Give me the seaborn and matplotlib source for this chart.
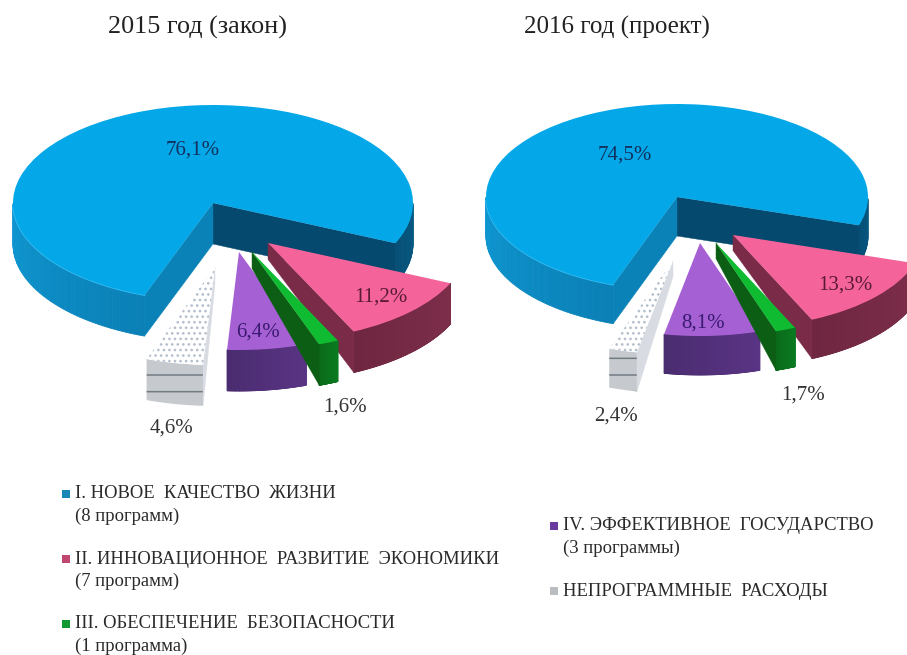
import numpy as np
import seaborn as sns
from matplotlib import pyplot as plt

# values in legend order: I, II, III, IV, non-programme
shares_2015 = [76.1, 11.2, 1.6, 6.4, 4.6]
shares_2016 = [74.5, 13.3, 1.7, 8.1, 2.4]
labels_2015 = ['76,1%', '11,2%', '1,6%', '6,4%', '4,6%']
labels_2016 = ['74,5%', '13,3%', '1,7%', '8,1%', '2,4%']
titles = ['2015 год (закон)', '2016 год (проект)']
legend_left = [
    ['I. НОВОЕ  КАЧЕСТВО  ЖИЗНИ', '(8 программ)'],
    ['II. ИННОВАЦИОННОЕ  РАЗВИТИЕ  ЭКОНОМИКИ', '(7 программ)'],
    ['III. ОБЕСПЕЧЕНИЕ  БЕЗОПАСНОСТИ', '(1 программа)'],
]
legend_right = [
    ['IV. ЭФФЕКТИВНОЕ  ГОСУДАРСТВО', '(3 программы)'],
    ['НЕПРОГРАММНЫЕ  РАСХОДЫ'],
]

W, H = 907, 655
top_colors = ['#04a8e8', '#f4649a', '#0fbb30', '#a560d4', '#ffffff']
rim_colors = [
    ['#064f76', '#0a6f9f', '#0d8fca', '#0e97d2', '#0a80b6'],
    ['#6f2640', '#7d2e4a'],
    ['#0a6a1a', '#0a7a20'],
    ['#4a2c70', '#5a3484'],
    ['#c6cacf', '#c6cacf'],
]
# colours of the cut faces: at theta1 and theta2 of each wedge
face_colors = [
    ('#05496e', '#0a82b8'),
    ('#7a2b47', '#6a2340'),
    ('#0b5e14', '#0b5e14'),
    ('#4a2c70', '#4a2c70'),
    ('#d8dce2', '#d8dce2'),
]
draw_order = [0, 4, 1, 3, 2]

sns.set_theme(style='white')
plt.rcParams['font.family'] = ['Liberation Serif', 'DejaVu Serif']
plt.rcParams['hatch.linewidth'] = 1.1
fig = plt.figure(figsize=(W / 100, H / 100), dpi=100, facecolor='white')


def draw_sides(ax, w, i, depth, z):
    cx, cy = w.center
    t = np.radians(np.linspace(w.theta1, w.theta2, 241))
    xs = cx + w.r * np.cos(t)
    ys = cy + w.r * np.sin(t)
    if i == 4:
        ax.fill(np.r_[xs, xs[::-1]], np.r_[ys, ys[::-1] - depth], facecolor='#c6cacf',
                edgecolor='#727a82', hatch='-', lw=0, zorder=z)
    else:
        pal = sns.blend_palette(rim_colors[i], len(t) - 1)
        for k, c in enumerate(pal):
            # back of the rim is hidden by the top
            if np.sin(t[k]) > 0 or np.sin(t[k + 1]) > 0:
                continue
            ax.fill([xs[k], xs[k + 1], xs[k + 1], xs[k]],
                    [ys[k], ys[k + 1], ys[k + 1] - depth, ys[k] - depth],
                    color=c, lw=0.6, zorder=z)
    # pulled-out slices look shallower at the apex
    apex = depth if i == 0 else depth * 0.4
    # only faces turned towards the viewer
    if np.cos(np.radians(w.theta1)) > 0:
        ax.fill([cx, xs[0], xs[0], cx], [cy, ys[0], ys[0] - depth, cy - apex],
                color=face_colors[i][0], lw=0.3, zorder=z + 0.1)
    if np.cos(np.radians(w.theta2)) < 0:
        ax.fill([cx, xs[-1], xs[-1], cx], [cy, ys[-1], ys[-1] - depth, cy - apex],
                color=face_colors[i][1], lw=0.3, zorder=z + 0.1)
    if i == 0:
        m = np.degrees(t) > 182
        ax.plot(xs[m], ys[m], color='#35bcf2', lw=1.2, zorder=z + 0.15)


def draw_pie(values, start, center, radius, depth, shifts, x0, x1):
    cx, cy = center
    rx, ry = radius
    y0, y1 = 60, 470
    ax = fig.add_axes([x0 / W, 1 - y1 / H, (x1 - x0) / W, (y1 - y0) / H])
    wedges, _ = ax.pie(values, colors=top_colors, startangle=start, counterclock=False)
    ax.set_aspect('auto')
    ax.set_xlim((x0 - cx) / rx, (x1 - cx) / rx)
    ax.set_ylim((cy - y1) / ry, (cy - y0) / ry)
    ax.patch.set_alpha(0)
    for order, i in enumerate(draw_order):
        w = wedges[i]
        dx, dy = shifts[i]
        w.set_center((dx / rx, -dy / ry))
        w.set_linewidth(0)
        w.set_zorder(order + 1.3)
        draw_sides(ax, w, i, depth / ry, order + 1)
    wedges[4].set_edgecolor('#b4bfcc')
    wedges[4].set_hatch('...')
    return ax


# pixel offsets of the pulled-out slices
draw_pie(shares_2015, 250, (213, 203), (200, 98), 41,
         [(0, 0), (55, 40), (39, 49), (26, 49), (2, 64)], 0, 465)
draw_pie(shares_2016, 250.5, (677, 197), (191, 93), 39,
         [(0, 0), (56, 38), (39, 46), (23, 46), (-4, 64)], 465, 907)

ov = fig.add_axes([0, 0, 1, 1], zorder=20)
ov.set_xlim(0, W)
ov.set_ylim(H, 0)
ov.axis('off')
ov.patch.set_alpha(0)

ov.text(197, 27, titles[0], fontsize=18.8, ha='center', va='center', color='#222222')
ov.text(617, 27, titles[1], fontsize=18, ha='center', va='center', color='#222222')

label_xy_2015 = [(193, 150), (381, 297), (345, 407), (258, 332), (172, 428)]
label_xy_2016 = [(625, 155), (845, 285), (803, 395), (703, 323), (616, 416)]
label_cols = ['#12305e', '#5a1a34', '#333333', '#3a1a70', '#333333']
for txts, xys in [(labels_2015, label_xy_2015), (labels_2016, label_xy_2016)]:
    for t, (x, y), c in zip(txts, xys, label_cols):
        ov.text(x, y, t, fontsize=15, ha='center', va='center', color=c)

leg_rows = [
    (legend_left[0], 66, 494, '#1b86b8'),
    (legend_left[1], 66, 559, '#c2476f'),
    (legend_left[2], 66, 624, '#129a32'),
    (legend_right[0], 554, 526, '#6a3aa0'),
    (legend_right[1], 554, 591, '#b9bcc0'),
]
for lines, x, y, c in leg_rows:
    ov.scatter([x], [y], marker='s', s=32, color=c, linewidths=0)
    ov.text(x + 9, y, lines[0], fontsize=13.4, va='center', color='#2a2a2a')
    if len(lines) > 1:
        ov.text(x + 9, y + 22, lines[1], fontsize=13.4, va='center', color='#2a2a2a')

fig.savefig('out.png', dpi=100)
